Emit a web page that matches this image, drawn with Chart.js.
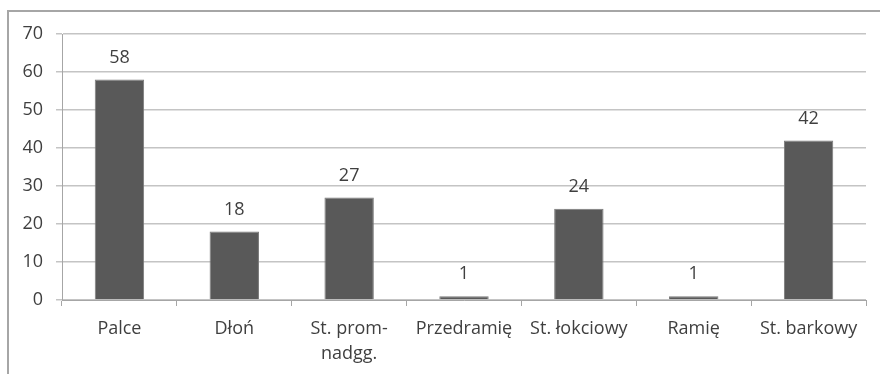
<!DOCTYPE html>
<html>
<head>
<meta charset="utf-8">
<script src="https://cdn.jsdelivr.net/npm/chart.js@4"></script>
<style>
  html, body { margin: 0; padding: 0; background: #fff; }
  #wrap { position: relative; width: 880px; height: 374px; }
</style>
</head>
<body>
<div id="wrap"><canvas id="chart" width="880" height="374"></canvas></div>
<script>
const categories = ['Palce', 'Dłoń', ['St. prom-', 'nadgg.'], 'Przedramię', 'St. łokciowy', 'Ramię', 'St. barkowy']
const values = [58, 18, 27, 1, 24, 1, 42]
const yTicks = [0, 10, 20, 30, 40, 50, 60, 70]

const textColor = '#3f3f3f'
const fontFamily = '"Open Sans", "DejaVu Sans", sans-serif'

// outer frame of the chart box (runs off the right and bottom edges)
const framePlugin = {
    id: 'frame',
    beforeDraw(chart) {
        const ctx = chart.ctx
        ctx.save()
        ctx.strokeStyle = '#a6a6a6'
        ctx.lineWidth = 2
        ctx.beginPath()
        ctx.moveTo(8, chart.height + 2)
        ctx.lineTo(8, 11)
        ctx.lineTo(chart.width + 2, 11)
        ctx.stroke()
        ctx.restore()
    },
}

// value printed above every bar
const valueLabels = {
    id: 'valueLabels',
    afterDatasetsDraw(chart) {
        const ctx = chart.ctx
        const meta = chart.getDatasetMeta(0)
        ctx.save()
        ctx.fillStyle = textColor
        ctx.font = '18px ' + fontFamily
        ctx.textAlign = 'center'
        ctx.textBaseline = 'middle'
        meta.data.forEach((bar, i) => {
            ctx.fillText(String(values[i]), bar.x, bar.y - 22)
        })
        ctx.restore()
    },
}

new Chart(document.getElementById('chart'), {
    type: 'bar',
    data: {
        labels: categories,
        datasets: [
            {
                data: values,
                backgroundColor: '#595959',
                borderColor: '#7a7a7a',
                borderWidth: 1,
                categoryPercentage: 1,
                barPercentage: 0.43,
            },
        ],
    },
    options: {
        responsive: false,
        animation: false,
        layout: { padding: { top: 34, right: 14, left: 0, bottom: 0 } },
        plugins: {
            legend: { display: false },
            tooltip: { enabled: false },
        },
        scales: {
            x: {
                afterFit(scale) { scale.height = 74 },
                grid: {
                    display: true,
                    drawOnChartArea: false,
                    offset: true,
                    tickLength: 6,
                    color: '#a6a6a6',
                },
                border: { color: '#a6a6a6', width: 1 },
                ticks: {
                    color: textColor,
                    font: { family: fontFamily, size: 18, lineHeight: 1.4 },
                    padding: 10,
                    maxRotation: 0,
                    autoSkip: false,
                },
            },
            y: {
                min: 0,
                max: 70,
                afterFit(scale) { scale.width = 62 },
                afterBuildTicks(scale) { scale.ticks = yTicks.map(v => ({ value: v })) },
                grid: {
                    color: '#c4c4c4',
                    lineWidth: 1.5,
                    tickLength: 6,
                },
                border: { color: '#a6a6a6', width: 1 },
                ticks: {
                    color: textColor,
                    font: { family: fontFamily, size: 18 },
                    padding: 13,
                },
            },
        },
    },
    plugins: [framePlugin, valueLabels],
})
</script>
</body>
</html>
